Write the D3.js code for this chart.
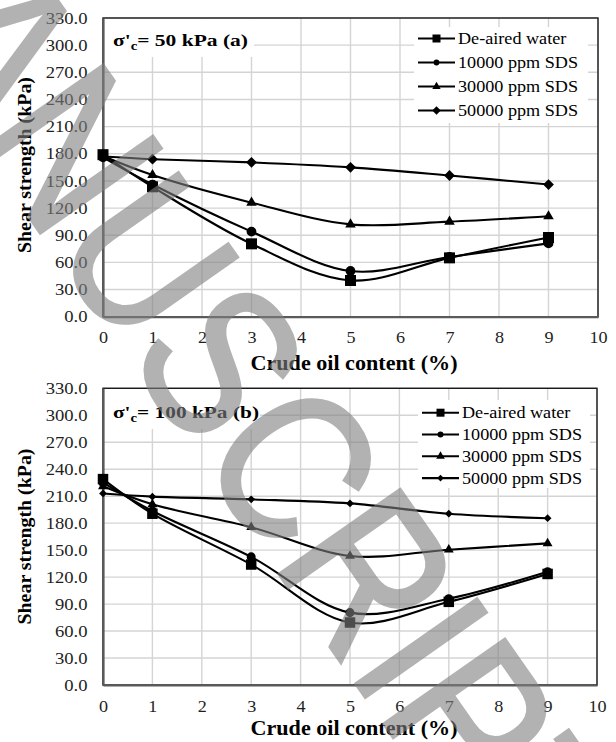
<!DOCTYPE html>
<html><head><meta charset="utf-8">
<script src="https://cdn.jsdelivr.net/npm/d3@7"></script>
<style>html,body{margin:0;padding:0;background:#fff;}svg{display:block;}</style>
</head><body><svg id="c" width="616" height="742"></svg>
<script>
// ---- data ----
const xValues = [0, 1, 3, 5, 7, 9];
const seriesNames = ["De-aired water", "10000 ppm SDS", "30000 ppm SDS", "50000 ppm SDS"];
const panelTitles = ["50 kPa", "100 kPa"];
const panelLetters = ["(a)", "(b)"];
// panel (a): sigma'c = 50 kPa
const a_water = [179, 143.5, 80.5, 40, 65, 87.5];
const a_sds10 = [176, 146, 94, 50.5, 66, 81];
const a_sds30 = [177.5, 156.5, 126, 102, 105, 111];
const a_sds50 = [177, 174, 170.5, 165, 156, 146];
// panel (b): sigma'c = 100 kPa
const b_water = [229, 190.5, 134, 69.5, 92.5, 123.5];
const b_sds10 = [225, 193.5, 142.5, 80.5, 96, 126];
const b_sds30 = [221, 201, 175.5, 143.5, 150.5, 157.5];
const b_sds50 = [213, 209.5, 206.5, 202, 190.5, 185.5];
const yTicks = [0, 30, 60, 90, 120, 150, 180, 210, 240, 270, 300, 330];
const xTicks = [0, 1, 2, 3, 4, 5, 6, 7, 8, 9, 10];
const xTitle = "Crude oil content (%)";
const yTitle = "Shear strength (kPa)";
const watermark = "MANUSCRIPT";

const panelData = [[a_water, a_sds10, a_sds30, a_sds50], [b_water, b_sds10, b_sds30, b_sds50]];

const svg = d3.select("#c");
const SERIF = '"Liberation Serif"';

function serif(sel) { return sel.style("font-family", SERIF); }
function stretch(sel, k) {
  sel.each(function () {
    const w = this.getComputedTextLength();
    d3.select(this).attr("textLength", w * k).attr("lengthAdjust", "spacingAndGlyphs");
  });
}

const layouts = [
  { left: 103, right: 598, top: 18, bottom: 316.7, titleBase: 46, titleW: 135,
    xLabPad: 14.4, xTitleY: 370, xTitleX: 354, yTitleY: 165,
    leg: { x1: 418, x2: 455, tx: 458, y0: 38.5, dy: 24, box: [414, 27, 174, 96] },
    titleBox: [104, 19, 150, 38],
    mk: [121, 75, 48, 58], lmk: [64, 26, 30, 36] },
  { left: 103, right: 597, top: 388.3, bottom: 685, titleBase: 417.5, titleW: 146,
    xLabPad: 15, xTitleY: 735, xTitleX: 354, yTitleY: 536.5,
    leg: { x1: 422, x2: 459, tx: 462, y0: 412.7, dy: 21.8, box: [418, 400, 172, 88] },
    titleBox: [104, 389, 156, 40],
    mk: [110, 64, 42, 30], lmk: [64, 28, 32, 22] }
];

const symbolTypes = [d3.symbolSquare, d3.symbolCircle, d3.symbolTriangle, d3.symbolSquare];
const symbolRot = [0, 0, 0, 45];

layouts.forEach((L, pi) => {
  const x = d3.scaleLinear().domain([0, 10]).range([L.left, L.right]);
  const y = d3.scaleLinear().domain([0, 330]).range([L.bottom, L.top]);
  const g = svg.append("g");

  // gridlines
  g.append("g").selectAll("line.h").data(yTicks).join("line")
    .attr("x1", L.left).attr("x2", L.right).attr("y1", d => y(d)).attr("y2", d => y(d))
    .attr("stroke", "#d4d4d4").attr("stroke-width", 1.4);
  g.append("g").selectAll("line.v").data(xTicks).join("line")
    .attr("x1", d => x(d)).attr("x2", d => x(d)).attr("y1", L.top).attr("y2", L.bottom)
    .attr("stroke", "#d4d4d4").attr("stroke-width", 1.4);

  // white boxes behind title and legend
  g.append("rect").attr("x", L.titleBox[0]).attr("y", L.titleBox[1]).attr("width", L.titleBox[2]).attr("height", L.titleBox[3]).attr("fill", "#fff");
  g.append("rect").attr("x", L.leg.box[0]).attr("y", L.leg.box[1]).attr("width", L.leg.box[2]).attr("height", L.leg.box[3]).attr("fill", "#fff");

  // frame
  g.append("rect").attr("x", L.left).attr("y", L.top).attr("width", L.right - L.left).attr("height", L.bottom - L.top)
    .attr("fill", "none").attr("stroke", "#1a1a1a").attr("stroke-width", 1.4);

  // axes
  const ya = g.append("g").attr("transform", `translate(${L.left},0)`)
    .call(d3.axisLeft(y).tickValues(yTicks).tickFormat(d => d.toFixed(1)).tickSize(0).tickPadding(15.5));
  const xa = g.append("g").attr("transform", `translate(0,${L.bottom})`)
    .call(d3.axisBottom(x).tickValues(xTicks).tickFormat(d3.format("d")).tickSize(0).tickPadding(L.xLabPad));
  [ya, xa].forEach(a => {
    a.attr("font-family", null);
    a.select(".domain").attr("stroke", "#5a5a5a").attr("stroke-width", 2.2);
    serif(a.selectAll("text")).attr("font-size", 16.2).attr("fill", "#1f1f1f");
  });
  stretch(ya.selectAll("text"), 1.15);
  stretch(xa.selectAll("text"), 1.12);

  // series
  const line = d3.line().x((d, i) => x(xValues[i])).y(d => y(d)).curve(d3.curveCatmullRom.alpha(0.5));
  panelData[pi].forEach((vals) => {
    g.append("path").datum(vals).attr("d", line).attr("fill", "none")
      .attr("stroke", "#000").attr("stroke-width", 2.1);
  });
  panelData[pi].forEach((vals, si) => {
    const sym = d3.symbol().type(symbolTypes[si]).size(L.mk[si]);
    g.append("g").selectAll("path").data(vals).join("path")
      .attr("d", sym)
      .attr("transform", (d, i) => `translate(${x(xValues[i])},${y(d)}) rotate(${symbolRot[si]})`)
      .attr("fill", "#000");
  });

  // panel title
  const t = serif(g.append("text")).attr("x", 113).attr("y", L.titleBase)
    .attr("font-weight", "bold").attr("font-size", 17.5).attr("fill", "#000");
  t.append("tspan").text("σ'");
  t.append("tspan").attr("font-size", 12).attr("dy", 4).text("c");
  t.append("tspan").attr("dy", -4).text("= " + panelTitles[pi] + " ");
  t.append("tspan").text(panelLetters[pi]);
  t.attr("textLength", L.titleW).attr("lengthAdjust", "spacingAndGlyphs");

  // legend
  seriesNames.forEach((name, si) => {
    const ly = L.leg.y0 + si * L.leg.dy;
    g.append("line").attr("x1", L.leg.x1).attr("x2", L.leg.x2).attr("y1", ly).attr("y2", ly)
      .attr("stroke", "#000").attr("stroke-width", 2.1);
    g.append("path").attr("d", d3.symbol().type(symbolTypes[si]).size(L.lmk[si]))
      .attr("transform", `translate(${(L.leg.x1 + L.leg.x2) / 2},${ly}) rotate(${symbolRot[si]})`)
      .attr("fill", "#000");
    const lt = serif(g.append("text")).attr("x", L.leg.tx).attr("y", ly + 5.6)
      .attr("font-size", 17.3).attr("fill", "#000").text(name);
    stretch(lt, 1.05);
  });

  // axis titles
  const xt = serif(g.append("text")).attr("x", L.xTitleX).attr("y", L.xTitleY).attr("text-anchor", "middle")
    .attr("font-weight", "bold").attr("font-size", 20).attr("fill", "#000").text(xTitle);
  xt.attr("textLength", 207).attr("lengthAdjust", "spacingAndGlyphs");
  const yt = serif(g.append("text")).attr("transform", `translate(31,${L.yTitleY}) rotate(-90)`).attr("text-anchor", "middle")
    .attr("font-weight", "bold").attr("font-size", 19).attr("fill", "#000").text(yTitle);
  yt.attr("textLength", 176).attr("lengthAdjust", "spacingAndGlyphs");
});

// watermark overlay
svg.append("text")
  .attr("transform", "translate(-184,-87) rotate(55) scale(0.85,1)")
  .style("font-family", '"Liberation Sans"').attr("font-size", 215)
  .attr("fill", "#808080").attr("stroke", "#808080").attr("stroke-width", 3)
  .attr("opacity", 0.6).text(watermark);
</script></body></html>
